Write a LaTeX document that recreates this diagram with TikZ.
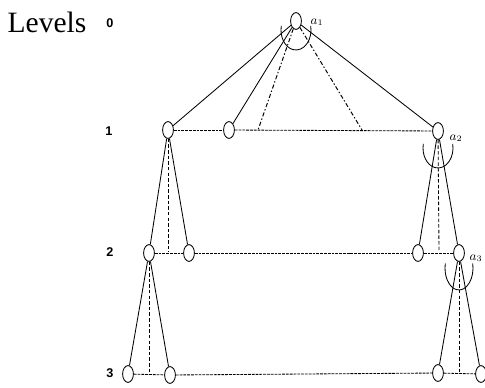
\documentclass[tikz,border=0pt]{standalone}
\usepackage{fontspec}
\setmainfont{Liberation Serif}
\newfontfamily\lvfont{Liberation Sans}
\usetikzlibrary{shapes.geometric}
\begin{document}
\begin{tikzpicture}[x=0.025cm, y=-0.025cm,
  nd/.style={draw, ellipse, inner sep=0pt, minimum width=0.27cm, minimum height=0.42cm, line width=0.6pt},
  tree/.style={line width=0.6pt},
  hlink/.style={line width=0.6pt, dash pattern=on 2pt off 0.7pt},
  vlink/.style={line width=0.6pt, dash pattern=on 2.5pt off 1.5pt},
  dlink/.style={line width=0.7pt, dash pattern=on 3pt off 1.5pt on 1pt off 1.5pt},
  lv/.style={font=\lvfont\bfseries\small},
  lab/.style={font=\small}]
\useasboundingbox (0,0) rectangle (485,387);
% level labels
\node[font=\fontsize{21}{24}\selectfont] (ttl) at (47,22) {Levels};
\node[lv] (n0) at (110,23) {0};
\node[lv] (n1) at (109,131) {1};
\node[lv] (n2) at (110,252) {2};
\node[lv] (n3) at (110,373) {3};
% nodes
\node[nd] (rt) at (296,21) {};
\node[nd] (l1a) at (168,130) {};
\node[nd] (l1b) at (229,130) {};
\node[nd] (l1c) at (438,131) {};
\node[nd] (l2a) at (149,253) {};
\node[nd] (l2b) at (189,253) {};
\node[nd] (l2c) at (418,253) {};
\node[nd] (l2d) at (459,253) {};
\node[nd] (l3a) at (128,374) {};
\node[nd] (l3b) at (170,375) {};
\node[nd] (l3c) at (438,373) {};
\node[nd] (l3d) at (481,374) {};
\node[lab] (a1) at (317,22) {$a_1$};
\node[lab] (a2) at (456,138) {$a_2$};
\node[lab] (a3) at (476,258) {$a_3$};
\coordinate (p1) at (258,130);
\coordinate (p2) at (362,130);
\coordinate (v1) at (168,252);
\coordinate (v2) at (439,252);
\coordinate (v3) at (149,374);
\coordinate (v4) at (459,373);
% tree edges
\draw[tree] (rt) -- (l1a);
\draw[tree] (rt) -- (l1b);
\draw[tree] (rt) -- (l1c);
\draw[tree] (l1a) -- (l2a);
\draw[tree] (l1a) -- (l2b);
\draw[tree] (l1c) -- (l2c);
\draw[tree] (l1c) -- (l2d);
\draw[tree] (l2a) -- (l3a);
\draw[tree] (l2a) -- (l3b);
\draw[tree] (l2d) -- (l3c);
\draw[tree] (l2d) -- (l3d);
% dashed links
\draw[dlink] (rt) -- (p1);
\draw[dlink] (rt) -- (p2);
\draw[vlink] (l1a) -- (v1);
\draw[vlink] (l1c) -- (v2);
\draw[vlink] (l2a) -- (v3);
\draw[vlink] (l2d) -- (v4);
% horizontal links
\draw[hlink] (l1a) -- (l1b);
\draw[hlink] (l1b) -- (l1c);
\draw[hlink] (l2a) -- (l2b);
\draw[hlink] (l2b) -- (l2c);
\draw[hlink] (l2c) -- (l2d);
\draw[hlink] (l3a) -- (l3b);
\draw[hlink] (l3b) -- (l3c);
\draw[hlink] (l3c) -- (l3d);
% arcs
\coordinate (c1) at (296,30);
\coordinate (c2) at (438,148);
\coordinate (c3) at (459,268);
\draw[tree] (c1) ++(168:0.375cm and 0.5cm) arc[start angle=168, end angle=372, x radius=0.375cm, y radius=0.5cm];
\draw[tree] (c2) ++(168:0.375cm and 0.5cm) arc[start angle=168, end angle=372, x radius=0.375cm, y radius=0.5cm];
\draw[tree] (c3) ++(168:0.35cm and 0.55cm) arc[start angle=168, end angle=372, x radius=0.35cm, y radius=0.55cm];
\end{tikzpicture}
\end{document}
